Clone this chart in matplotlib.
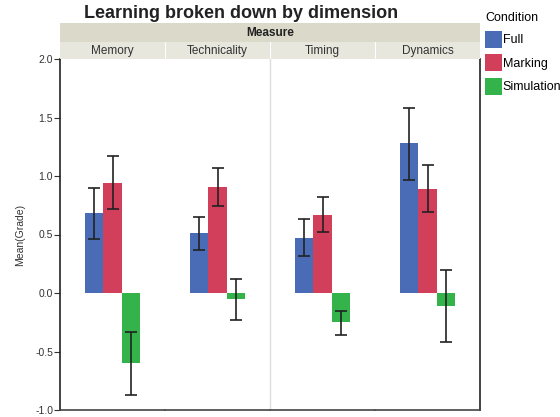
import numpy as np
import matplotlib
matplotlib.use("Agg")
import matplotlib.pyplot as plt
from matplotlib.patches import Patch

plt.rcParams["font.family"] = ["Liberation Sans", "DejaVu Sans"]
plt.rcParams["axes.unicode_minus"] = False

# ── data ──────────────────────────────────────────────────────────────────────
measures   = ["Memory", "Technicality", "Timing", "Dynamics"]
conditions = ["Full", "Marking", "Simulation"]
colors     = ["#4a6bb5", "#d13f5a", "#33b34a"]

full_mean  = [0.68, 0.51, 0.47, 1.28]
full_lo    = [0.46, 0.37, 0.32, 0.97]
full_hi    = [0.90, 0.65, 0.63, 1.58]

mark_mean  = [0.94, 0.91, 0.67, 0.89]
mark_lo    = [0.72, 0.74, 0.52, 0.69]
mark_hi    = [1.17, 1.07, 0.82, 1.09]

sim_mean   = [-0.60, -0.05, -0.25, -0.11]
sim_lo     = [-0.875, -0.23, -0.36, -0.42]
sim_hi     = [-0.33, 0.12, -0.15, 0.20]

yticks = [2.0, 1.5, 1.0, 0.5, 0.0, -0.5, -1.0]

series = [(full_mean, full_lo, full_hi),
          (mark_mean, mark_lo, mark_hi),
          (sim_mean, sim_lo, sim_hi)]

# ── figure ────────────────────────────────────────────────────────────────────
W, H = 560, 417
fig = plt.figure(figsize=(W / 100, H / 100), dpi=100)

x0, x1 = 60, 480
y_bot, y_top = 410, 59
pw = (x1 - x0) / len(measures)
bw = 0.172
offs = [-bw, 0.0, bw]

axes = []
for i, m in enumerate(measures):
    ax = fig.add_axes([(x0 + i * pw) / W, (H - y_bot) / H, pw / W, (y_bot - y_top) / H])
    for j, (mean, lo, hi) in enumerate(series):
        v = mean[i]
        ax.bar(0.5 + offs[j], v, width=bw, color=colors[j], linewidth=0, zorder=2)
        ax.errorbar(0.5 + offs[j], v, yerr=[[v - lo[i]], [hi[i] - v]], fmt="none",
                    ecolor="#222222", elinewidth=1.2, capsize=4.3, capthick=1.2, zorder=3)
    ax.set_xlim(0, 1)
    ax.set_ylim(-1.0, 2.0)
    ax.set_xticks([])
    for s in ("top", "right", "left"):
        ax.spines[s].set_visible(False)
    ax.spines["bottom"].set_color("#444444")
    ax.spines["bottom"].set_linewidth(1.2)
    if i == 0:
        ax.spines["left"].set_visible(True)
        ax.spines["left"].set_color("#222222")
        ax.spines["left"].set_linewidth(1.2)
        ax.set_yticks(yticks)
        ax.set_yticklabels([f"{t:.1f}" for t in yticks], fontsize=7.5, color="#333333")
        ax.tick_params(axis="y", length=4, width=0.8, color="#333333", pad=1)
        ax.set_ylabel("Mean(Grade)", fontsize=7.5, color="#333333", labelpad=7)
    else:
        ax.set_yticks([])
    if i == 2:
        ax.spines["left"].set_visible(True)
        ax.spines["left"].set_color("#dddddd")
        ax.spines["left"].set_linewidth(1.0)
    if i == len(measures) - 1:
        ax.spines["right"].set_visible(True)
        ax.spines["right"].set_color("#222222")
        ax.spines["right"].set_linewidth(1.2)
    axes.append(ax)

    # sub-header strip
    hx = fig.add_axes([(x0 + i * pw) / W, (H - 59) / H, pw / W, 17 / H])
    hx.set_facecolor("#e7e7dd")
    hx.set_xticks([]); hx.set_yticks([])
    for s in hx.spines.values():
        s.set_visible(False)
    hx.text(0.5, 0.45, m, ha="center", va="center", fontsize=8.5, color="#333333",
            transform=hx.transAxes)
    if i > 0:
        hx.axvline(0, color="white", lw=1.5)

# top header strip
tx = fig.add_axes([x0 / W, (H - 42) / H, (x1 - x0) / W, 19 / H])
tx.set_facecolor("#dbd9c9")
tx.set_xticks([]); tx.set_yticks([])
for s in tx.spines.values():
    s.set_visible(False)
tx.text(0.5, 0.45, "Measure", ha="center", va="center", fontsize=8.5,
        fontweight="bold", color="#222222", transform=tx.transAxes)

fig.text(241 / W, 1 - 13 / H, "Learning broken down by dimension", ha="center",
         va="center", fontsize=13, fontweight="bold", color="#222222")

handles = [Patch(facecolor=c, edgecolor="none") for c in colors]
leg = fig.legend(handles, conditions, title="Condition", loc="upper left",
                 bbox_to_anchor=(474 / W, 1 - 1 / H), frameon=False, fontsize=9,
                 title_fontsize=9, handlelength=1.3, handleheight=1.75,
                 handletextpad=0.1, labelspacing=0.5, alignment="left")

fig.savefig("out.png", dpi=100)
